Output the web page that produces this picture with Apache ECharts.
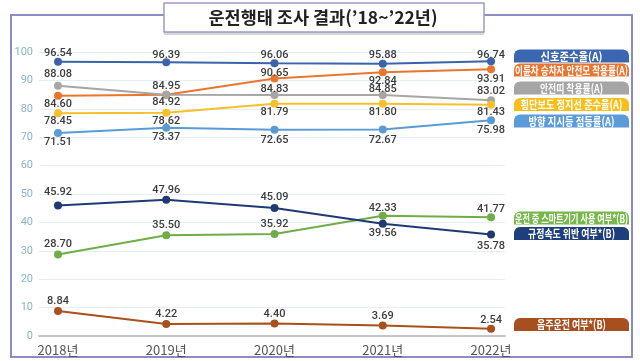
<!DOCTYPE html>
<html><head><meta charset="utf-8">
<script src="https://cdn.jsdelivr.net/npm/echarts@6/dist/echarts.min.js"></script>
<style>html,body{margin:0;padding:0;background:#fff}#c{width:640px;height:361px}</style>
</head><body><div id="c"></div>
<script>
const years = ['2018년','2019년','2020년','2021년','2022년'];
const yTicks = [0,10,20,30,40,50,60,70,80,90,100];
const names = ['신호준수율(A)','이륜차 승차자 안전모 착용률(A)','안전띠 착용률(A)','횡단보도 정지선 준수율(A)','방향 지시등 점등률(A)','운전 중 스마트기기 사용 여부*(B)','규정속도 위반 여부*(B)','음주운전 여부*(B)'];
const signal = [96.54,96.39,96.06,95.88,96.74];
const helmet = [84.60,84.92,90.65,92.84,93.91];
const belt = [88.08,84.95,84.83,84.85,83.02];
const stopLine = [78.45,78.62,81.79,81.80,81.43];
const turnSig = [71.51,73.37,72.65,72.67,75.98];
const phone = [28.70,35.50,35.92,42.33,41.77];
const speed = [45.92,47.96,45.09,39.56,35.78];
const drunk = [8.84,4.22,4.40,3.69,2.54];

// label placement (pixel offsets from each point, styling only)
const labelDy = [
  [-9.4,-8,-8.3,-9,-7],
  [7.6,6.7,-6,8,9],
  [-12.4,-8.6,-6.7,-6,-9.3],
  [7.3,8,7.7,7.7,7],
  [9,9.6,9.7,9.7,10],
  [-10.7,-10.7,-10,-8.3,-9],
  [-14,-10,-10.7,9,11.7],
  [-10,-10,-9.3,-10,-9]
];
const colors = ['#3a63ab','#e9762f','#a6a6a6','#f6c02b','#5b9bd5','#70ad47','#1f3a72','#a9501c'];
const boxColors = ['#3b67b0','#ec7330','#a5a5a5','#f8bf1a','#5a9bd8','#77b84a','#1f3f7a','#a84f1f'];
const boxTextW = [62,113,63,102,86,113,87,69];
const allData = [signal,helmet,belt,stopLine,turnSig,phone,speed,drunk];
const boxY = [56,70,88,104.5,121,218,233.5,324.5];

const cv = document.createElement('canvas').getContext('2d');
cv.font = 'bold 11.5px "Noto Sans CJK KR"';

const chart = echarts.init(document.getElementById('c'));
const series = allData.map((arr, si) => ({
  name: names[si], type:'line', symbol:'circle', symbolSize:8,
  lineStyle:{width:2,color:colors[si]}, itemStyle:{color:colors[si]},
  data: arr.map((v,i)=>({value:[i,v], label:{offset:[0,labelDy[si][i]+0.5]}})),
  label:{show:true, position:'inside', fontFamily:'Roboto', fontWeight:500, fontSize:11, color:'#3d3d3d',
    formatter: p => p.value[1].toFixed(2)},
  z: 3
}));

const graphics = [
  {type:'rect', shape:{x:11,y:15,width:621,height:342}, style:{fill:'none',stroke:'#8a8dc4',lineWidth:2}, z:-10},
  {type:'rect', shape:{x:164,y:5,width:320,height:30}, style:{fill:'#d6d6d6'}, z:-9},
  {type:'rect', shape:{x:164,y:3,width:320,height:29}, style:{fill:'#fff',stroke:'#9a9cc8',lineWidth:1.5}, z:-8},
  {type:'text', x:323, y:17, style:{text:'운전행태 조사 결과(’18~’22년)', fontFamily:'Noto Sans CJK KR', fontWeight:'bold', fontSize:17.5, fill:'#222', textAlign:'center', textVerticalAlign:'middle'}, z:5}
];
names.forEach((n,i)=>{
  const w = cv.measureText(n).width || boxTextW[i];
  const sx = Math.min(1, boxTextW[i]/w);
  graphics.push({type:'rect', shape:{x:514,y:boxY[i]-6.5,width:115,height:13,r:[6,6,0,0]}, style:{fill:boxColors[i]}, z:5});
  graphics.push({type:'text', x:571.5, y:boxY[i]+0.5, scaleX:sx, style:{text:n, fontFamily:'Noto Sans CJK KR', fontWeight:'bold', fontSize:11.5, fill:'#fff', textAlign:'center', textVerticalAlign:'middle'}, z:6});
});

chart.setOption({
  animation:false,
  grid:{left:39,right:135,top:52,bottom:25},
  xAxis:{type:'value', min:-0.1755, max:4.129,
    axisLine:{show:true,lineStyle:{color:'#c6c6c6',width:2}}, axisTick:{show:false}, splitLine:{show:false},
    axisLabel:{customValues:[0,1,2,3,4], formatter:v=>years[Math.round(v)], color:'#555', fontSize:13, fontFamily:'Noto Sans CJK KR', margin:8}},
  yAxis:{type:'value', min:yTicks[0], max:yTicks[yTicks.length-1], interval:10,
    axisLine:{show:false}, axisTick:{show:false},
    axisLabel:{color:'#8db3cb', fontSize:11, fontFamily:'Roboto', margin:6},
    splitLine:{lineStyle:{color:'#e6edf3',width:1}}},
  series: series,
  graphic: graphics
});
</script></body></html>
